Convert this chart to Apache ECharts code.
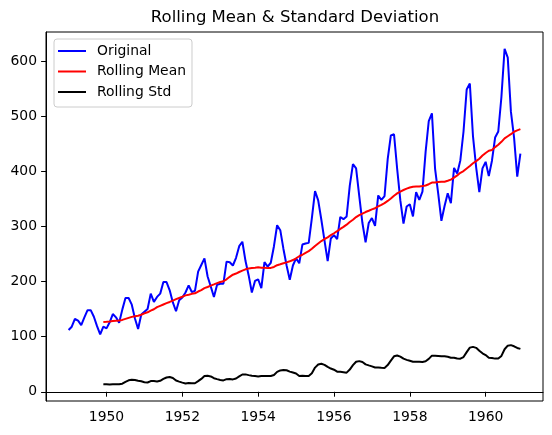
<!DOCTYPE html>
<html>
<head>
<meta charset="utf-8">
<script src="https://cdn.jsdelivr.net/npm/echarts@6/dist/echarts.min.js"></script>
<style>
html,body{margin:0;padding:0;background:#fff;}
#chart{width:552px;height:435px;}
</style>
</head>
<body>
<div id="chart"></div>
<script>
// Monthly series, starting January 1949
const startYear = 1949;
const original = [
  112,118,132,129,121,135,148,148,136,119,104,118,
  115,126,141,135,125,149,170,170,158,133,114,140,
  145,150,178,163,172,178,199,199,184,162,146,166,
  171,180,193,181,183,218,230,242,209,191,172,194,
  196,196,236,235,229,243,264,272,237,211,180,201,
  204,188,235,227,234,264,302,293,259,229,203,229,
  242,233,267,269,270,315,364,347,312,274,237,278,
  284,277,317,313,318,374,413,405,355,306,271,306,
  315,301,356,348,355,422,465,467,404,347,305,336,
  340,318,362,348,363,435,491,505,404,359,310,337,
  360,342,406,396,420,472,548,559,463,407,362,405,
  417,391,419,461,472,535,622,606,508,461,390,432
];
// Rolling (12-month) series begin at December 1949 (month index 11)
const rollingStartIndex = 11;
const rollingMean = [
  126.67,
  126.92,127.58,128.33,128.83,129.17,130.33,132.17,134.00,135.83,137.00,137.83,139.67,
  142.17,144.17,147.25,149.58,153.50,155.92,158.33,160.75,162.92,165.33,168.00,170.17,
  172.33,174.83,176.08,177.58,178.50,181.83,184.42,188.00,190.08,192.50,194.67,197.00,
  199.08,200.42,204.00,208.50,212.33,214.42,217.25,219.75,222.08,223.75,224.42,225.00,
  225.67,225.00,224.92,224.25,224.67,226.42,229.58,231.33,233.17,234.67,236.58,238.92,
  242.08,245.83,248.50,252.00,255.00,259.25,264.42,268.92,273.33,277.08,279.92,284.00,
  287.50,291.17,295.33,299.00,303.00,307.92,312.00,316.83,320.42,323.08,325.92,328.25,
  330.83,332.83,336.08,339.00,342.08,346.08,350.42,355.58,359.67,363.08,365.92,368.42,
  370.50,371.92,372.42,372.42,373.08,374.17,376.33,379.50,379.50,380.50,380.92,381.00,
  382.67,384.67,388.33,392.33,397.08,400.17,404.92,409.42,414.33,418.33,422.67,428.33,
  433.08,437.17,438.25,443.67,448.00,453.25,459.42,463.33,467.08,471.58,473.92,476.17
];
const rollingStd = [
  13.72,
  13.45,13.17,13.69,13.82,13.66,14.76,18.14,20.80,21.93,21.32,20.07,19.07,
  17.44,16.78,19.35,19.43,18.74,19.94,23.28,25.95,26.78,25.09,20.40,18.44,
  16.65,15.18,16.06,15.56,15.52,19.25,23.40,28.56,29.15,27.78,24.66,22.97,
  21.48,20.67,22.88,23.25,22.44,24.11,27.82,31.37,31.54,30.25,29.07,28.47,
  27.81,28.67,28.64,28.47,28.59,30.40,36.11,38.76,39.57,38.99,36.55,34.92,
  33.15,28.72,29.11,28.81,28.64,33.48,43.85,49.46,50.84,48.90,45.05,42.14,
  40.03,36.43,36.28,35.59,34.72,40.30,48.21,54.53,55.59,53.90,49.69,47.86,
  46.06,43.98,44.15,43.64,43.32,48.45,56.62,64.35,65.85,63.84,60.03,57.89,
  56.22,54.50,54.37,54.37,54.18,55.37,59.59,65.56,65.56,65.11,64.59,64.53,
  63.63,61.76,61.60,60.28,60.01,63.01,71.99,80.05,81.49,79.68,74.50,69.83,
  66.62,61.87,61.38,60.17,60.18,65.02,77.19,83.63,84.62,82.54,79.50,77.74
];
const xTickLabels = [1950, 1952, 1954, 1956, 1958, 1960];
const yTickLabels = [0, 100, 200, 300, 400, 500, 600];
const titleText = 'Rolling Mean & Standard Deviation';
const seriesNames = ['Original', 'Rolling Mean', 'Rolling Std'];

function monthPos(i) { return startYear + i / 12; }
const origPairs = original.map((v, i) => [monthPos(i), v]);
const meanPairs = rollingMean.map((v, i) => [monthPos(i + rollingStartIndex), v]);
const stdPairs = rollingStd.map((v, i) => [monthPos(i + rollingStartIndex), v]);

const FONT = "'DejaVu Sans'";
const TICK_FS = 13.9;
const chart = echarts.init(document.getElementById('chart'), null, {renderer: 'canvas'});
chart.setOption({
  animation: false,
  backgroundColor: '#ffffff',
  textStyle: {fontFamily: FONT},
  title: {
    text: titleText,
    left: 290,
    top: 4,
    padding: 5,
    textAlign: 'center',
    textStyle: {fontFamily: FONT, fontSize: 16.5, fontWeight: 'normal', color: '#000'}
  },
  legend: {
    orient: 'vertical',
    left: 54,
    top: 39,
    data: seriesNames,
    icon: 'rect',
    itemWidth: 28,
    itemHeight: 2,
    itemGap: 4.5,
    padding: [4, 6, 7, 4],
    backgroundColor: 'rgba(255,255,255,0.8)',
    borderColor: '#cccccc',
    borderWidth: 1,
    borderRadius: 3,
    textStyle: {fontFamily: FONT, fontSize: TICK_FS, color: '#000', padding: [0, 0, 0, 6], lineHeight: 16}
  },
  grid: {
    left: 46, right: 9, top: 32, bottom: 34,
    show: true, borderColor: '#000', borderWidth: 1, containLabel: false
  },
  xAxis: {
    type: 'value',
    min: 1948.404,
    max: 1961.513,
    splitLine: {show: false},
    axisLine: {show: true, lineStyle: {color: '#000', width: 1}},
    axisTick: {show: true, length: 4.9, lineStyle: {color: '#000', width: 1}, customValues: xTickLabels},
    axisLabel: {fontFamily: FONT, fontSize: TICK_FS, color: '#000', margin: 9, customValues: xTickLabels,
      formatter: v => String(v)}
  },
  yAxis: {
    type: 'value',
    min: -16.7,
    max: 652.4,
    splitLine: {show: false},
    axisLine: {show: true, lineStyle: {color: '#000', width: 1}},
    axisTick: {show: true, length: 4.9, lineStyle: {color: '#000', width: 1}, customValues: yTickLabels},
    axisLabel: {fontFamily: FONT, fontSize: TICK_FS, color: '#000', margin: 9, customValues: yTickLabels,
      formatter: v => String(v)}
  },
  series: [
    {name: seriesNames[0], type: 'line', data: origPairs, showSymbol: false, symbol: 'none',
      lineStyle: {color: '#0000ff', width: 2}, itemStyle: {color: '#0000ff'}},
    {name: seriesNames[1], type: 'line', data: meanPairs, showSymbol: false, symbol: 'none',
      lineStyle: {color: '#ff0000', width: 2}, itemStyle: {color: '#ff0000'}},
    {name: seriesNames[2], type: 'line', data: stdPairs, showSymbol: false, symbol: 'none',
      lineStyle: {color: '#000000', width: 2}, itemStyle: {color: '#000000'}}
  ]
});
</script>
</body>
</html>
